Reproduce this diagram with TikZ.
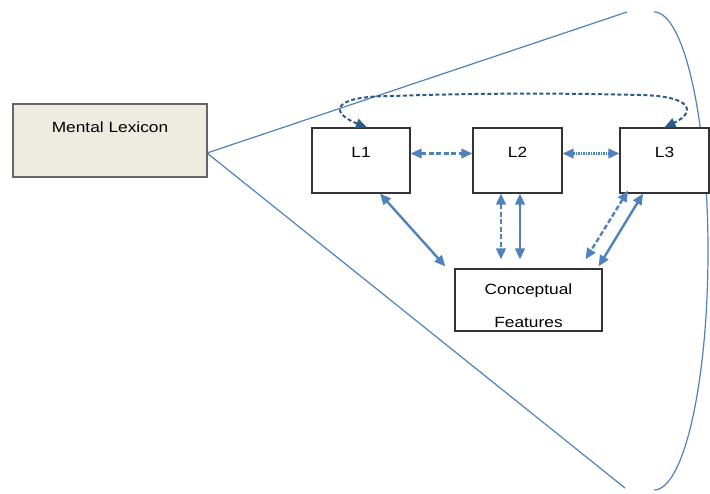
\documentclass[tikz,border=0pt]{standalone}
\usepackage{fontspec}
\newfontfamily\lexfont[FakeStretch=1.17]{Liberation Sans}
\usetikzlibrary{arrows.meta}
\definecolor{lexblue}{HTML}{4F81BD}
\definecolor{recallblue}{HTML}{2E5C8A}
\definecolor{lexbeige}{HTML}{EEECE1}

\begin{document}
\begin{tikzpicture}[x=1pt,y=-1pt,
    box/.style={draw=black!80, line width=1.2pt, fill=white, inner sep=0pt,
                font=\lexfont\fontsize{14.8}{17}\selectfont},
    lang/.style={box, text height=29.5pt, text depth=35.5pt},
    cone/.style={lexblue, line width=1.2pt},
    link/.style={lexblue, line width=2.4pt,
                 {Triangle[length=11pt,width=9.5pt]}-{Triangle[length=11pt,width=9.5pt]}},
    dashlink/.style={link, dash pattern=on 5pt off 2.5pt},
    dotlink/.style={link, dash pattern=on 1.5pt off 1pt},
    recall/.style={recallblue, line width=2pt, dash pattern=on 4pt off 2.5pt,
                   {Triangle[length=11pt,width=9.5pt]}-{Triangle[length=11pt,width=9.5pt]}}]
  \useasboundingbox (0,0) rectangle (710,493);

  % the cone round the lexicon
  \coordinate (apex) at (207,153);
  \coordinate (rimtop) at (627,12);
  \coordinate (rimbot) at (625,488);
  \coordinate (arctop) at (654,12);
  \draw[cone] (rimtop) -- (apex) -- (rimbot);
  \draw[cone] (arctop) arc[start angle=-90, end angle=90, x radius=54, y radius=239];

  % boxes
  \node[box, fill=lexbeige, draw=black!60, line width=2pt, minimum width=194,
        text height=28.5pt, text depth=44.5pt] (lexicon) at (110,140.5) {Mental Lexicon};
  \node[lang, minimum width=98] (l1) at (361,160.5) {L1};
  \node[lang, minimum width=89] (l2) at (517.5,160.5) {L2};
  \node[lang, minimum width=89] (l3) at (664.5,160.5) {L3};
  \node[box, minimum width=147, minimum height=62] (cf) at (528.5,300) {};
  \node[font=\lexfont\fontsize{14.8}{17}\selectfont, align=center, inner sep=0pt,
        anchor=north] (cftext) at ([yshift=-15]cf.north) {Conceptual\\[16.5pt]Features};

  % links between the languages
  \draw[dashlink] ([yshift=7]l1.east) -- ([yshift=7]l2.west);
  \draw[dotlink] ([yshift=7]l2.east) -- ([yshift=7]l3.west);
  \draw[recall] ([xshift=6]l1.north) .. controls (330,113) and (330,96) .. (392,96)
     .. controls (480,93) and (560,93) .. (640,95)
     .. controls (695,96) and (695,113) .. (l3.north);

  % links to the conceptual features
  \draw[link] ([xshift=19]l1.south) -- ([xshift=-9,yshift=2]cf.north west);
  \draw[dashlink] ([xshift=-16.5]l2.south) -- ([xshift=-27.5,yshift=9]cf.north);
  \draw[link] ([xshift=2.5]l2.south) -- ([xshift=-8.5,yshift=9]cf.north);
  \draw[dashlink] ([xshift=-36.5,yshift=3]l3.south) -- ([xshift=-17,yshift=9]cf.north east);
  \draw[link] ([xshift=-21.5]l3.south) -- ([xshift=-4,yshift=2]cf.north east);
\end{tikzpicture}
\end{document}
